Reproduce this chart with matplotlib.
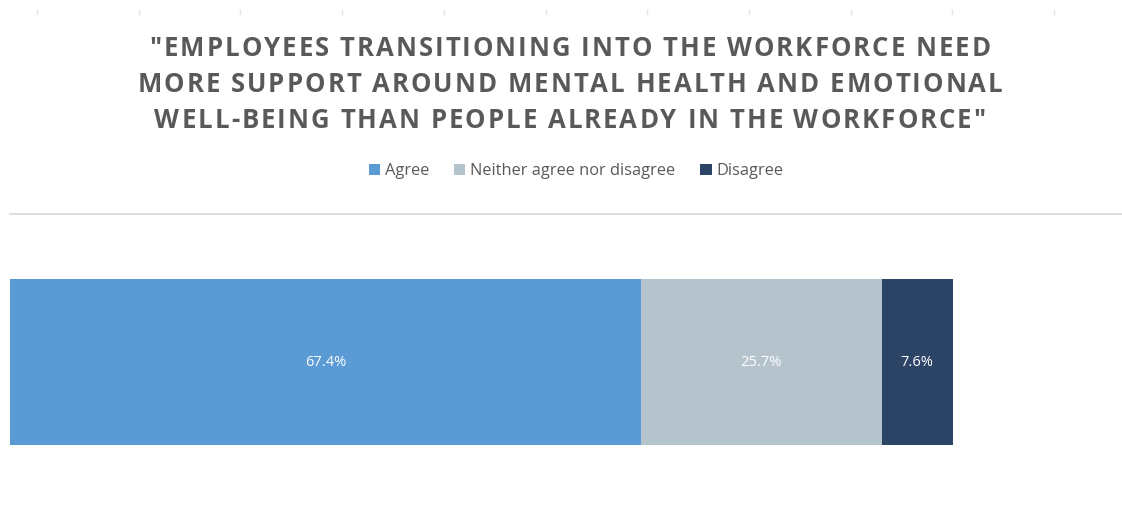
import matplotlib
matplotlib.use("Agg")
import matplotlib.pyplot as plt
from matplotlib.lines import Line2D
from matplotlib.patches import Rectangle
import numpy as np

W, H = 1122, 508
DPI = 100

title_lines = [
    '"EMPLOYEES TRANSITIONING INTO THE WORKFORCE NEED',
    'MORE SUPPORT AROUND MENTAL HEALTH AND EMOTIONAL',
    'WELL-BEING THAN PEOPLE ALREADY IN THE WORKFORCE"',
]
categories = ["Agree", "Neither agree nor disagree", "Disagree"]
values = [67.4, 25.7, 7.6]
colors = ["#5B9BD5", "#B4C3CC", "#2C4566"]

fig = plt.figure(figsize=(W / DPI, H / DPI), dpi=DPI)
fig.patch.set_facecolor("white")

# faint tick marks along the top edge
for tx in np.linspace(37, 1054, 11):
    fig.add_artist(Line2D([tx / W, tx / W], [1 - 10 / H, 1 - 14 / H],
                          color="#E3E3E3", lw=1.0, transform=fig.transFigure))

# letter-spaced title, drawn glyph by glyph
renderer = fig.canvas.get_renderer()
title_kw = dict(fontsize=18.5, fontweight="bold", family="Open Sans", color="#595959")
tracking = 2.0  # extra pixels between letters
for line, cy in zip(title_lines, [49, 85, 120]):
    widths = []
    for ch in line:
        if ch == " ":
            t = fig.text(0, 0, "a a", **title_kw)
            t2 = fig.text(0, 0, "aa", **title_kw)
            w = t.get_window_extent(renderer).width - t2.get_window_extent(renderer).width
            t.remove(); t2.remove()
        else:
            t = fig.text(0, 0, ch, **title_kw)
            w = t.get_window_extent(renderer).width
            t.remove()
        widths.append(w)
    total = sum(widths) + tracking * (len(line) - 1)
    x = 570 - total / 2
    for ch, w in zip(line, widths):
        if ch != " ":
            fig.text(x / W, 1 - cy / H, ch, ha="left", va="center", **title_kw)
        x += w + tracking

# legend
handles = [Rectangle((0, 0), 1, 1, facecolor=c, edgecolor="none") for c in colors]
fig.legend(handles, categories, loc="center", bbox_to_anchor=(576 / W, 1 - 171 / H),
           ncol=3, frameon=False, handlelength=0.7, handleheight=0.7,
           handletextpad=0.3, columnspacing=1.5,
           prop={"family": "Open Sans", "size": 11.8}, labelcolor="#595959")

# separator line
fig.add_artist(Line2D([10 / W, 1.0], [1 - 214 / H, 1 - 214 / H],
                      color="#D9D9D9", lw=1.2, transform=fig.transFigure))

# stacked bar
ax = fig.add_axes([10 / W, 1 - 445 / H, 1102 / W, 166 / H])
left = 0.0
for v, c in zip(values, colors):
    ax.barh(0, v, left=left, height=1.0, color=c, edgecolor="none")
    ax.text(left + v / 2, 0, f"{v}%", ha="center", va="center", color="white",
            fontsize=10.5, family="Open Sans")
    left += v
ax.set_xlim(0, 117.7)
ax.set_ylim(-0.5, 0.5)
ax.axis("off")

fig.savefig("out.png", dpi=DPI, facecolor="white")
